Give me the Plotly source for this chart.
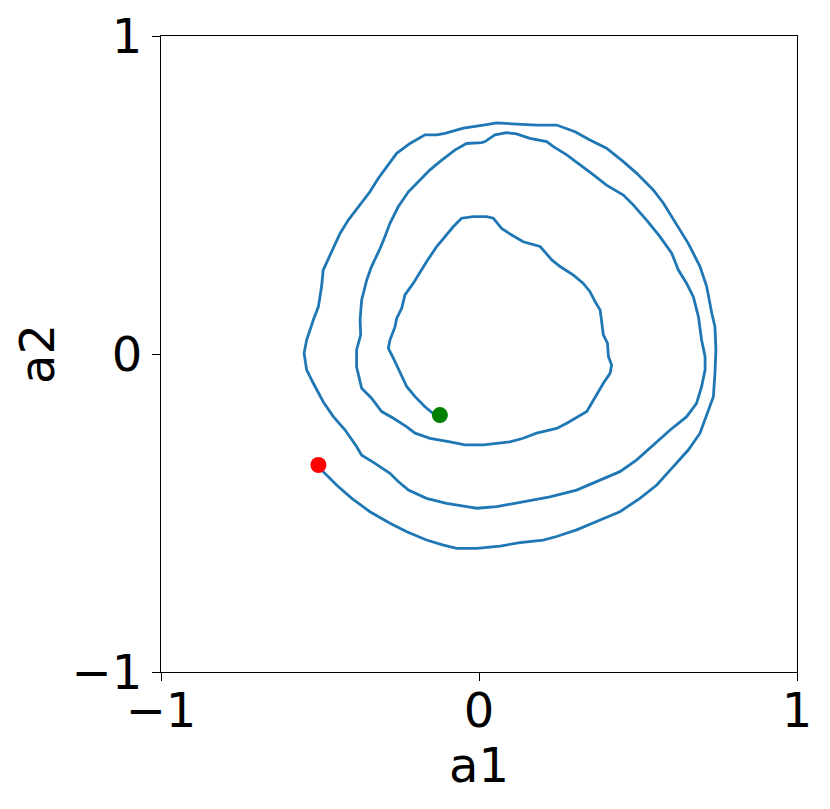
import plotly.graph_objects as go

# trajectory in (a1, a2) space, from start (red) to end (green)
a1 = [-0.505, -0.490, -0.448, -0.400, -0.343, -0.280, -0.227, -0.165, -0.112, -0.070,
      -0.007, 0.066, 0.129, 0.202, 0.244, 0.307, 0.381, 0.443, 0.506, 0.559,
      0.611, 0.658, 0.695, 0.721, 0.737, 0.742, 0.745, 0.742, 0.732, 0.716,
      0.695, 0.658, 0.622, 0.580, 0.548, 0.496, 0.454, 0.401, 0.349, 0.302,
      0.244, 0.181, 0.118, 0.056, 0.014, -0.049, -0.107, -0.133, -0.170, -0.217,
      -0.259, -0.285, -0.317, -0.343, -0.379, -0.411, -0.437, -0.463, -0.490, -0.495,
      -0.505, -0.521, -0.542, -0.550, -0.542, -0.521, -0.490, -0.458, -0.421, -0.385,
      -0.369, -0.327, -0.280, -0.254, -0.222, -0.165, -0.102, -0.039, -0.007, 0.056,
      0.139, 0.223, 0.307, 0.381, 0.443, 0.496, 0.548, 0.601, 0.653, 0.684,
      0.700, 0.711, 0.711, 0.700, 0.690, 0.674, 0.653, 0.627, 0.606, 0.569,
      0.527, 0.485, 0.454, 0.401, 0.360, 0.318, 0.276, 0.234, 0.213, 0.160,
      0.118, 0.087, 0.050, 0.019, 0.008, -0.039, -0.075, -0.123, -0.154, -0.191,
      -0.222, -0.254, -0.280, -0.296, -0.311, -0.338, -0.353, -0.369, -0.374, -0.372,
      -0.385, -0.385, -0.369, -0.338, -0.306, -0.269, -0.227, -0.201, -0.154, -0.091,
      -0.044, 0.014, 0.097, 0.139, 0.181, 0.244, 0.276, 0.339, 0.360, 0.391,
      0.412, 0.417, 0.407, 0.404, 0.391, 0.386, 0.381, 0.365, 0.349, 0.328,
      0.297, 0.255, 0.229, 0.192, 0.139, 0.103, 0.071, 0.045, 0.024, -0.018,
      -0.055, -0.081, -0.107, -0.133, -0.165, -0.186, -0.207, -0.233, -0.243, -0.259,
      -0.264, -0.280, -0.285, -0.269, -0.254, -0.243, -0.227, -0.201, -0.170, -0.144,
      -0.123]
a2 = [-0.349, -0.370, -0.412, -0.454, -0.496, -0.532, -0.559, -0.585, -0.601, -0.611,
      -0.611, -0.604, -0.593, -0.585, -0.574, -0.553, -0.522, -0.496, -0.454, -0.412,
      -0.354, -0.302, -0.249, -0.176, -0.134, -0.061, 0.013, 0.086, 0.128, 0.212,
      0.275, 0.348, 0.406, 0.474, 0.516, 0.568, 0.605, 0.647, 0.673, 0.699,
      0.720, 0.720, 0.723, 0.727, 0.720, 0.710, 0.694, 0.689, 0.689, 0.662,
      0.631, 0.594, 0.552, 0.510, 0.463, 0.421, 0.379, 0.322, 0.264, 0.212,
      0.149, 0.107, 0.044, 0.002, -0.050, -0.092, -0.150, -0.197, -0.239, -0.291,
      -0.318, -0.344, -0.375, -0.401, -0.428, -0.454, -0.470, -0.480, -0.485, -0.480,
      -0.464, -0.449, -0.428, -0.396, -0.370, -0.333, -0.286, -0.239, -0.197, -0.155,
      -0.103, -0.050, -0.008, 0.044, 0.117, 0.180, 0.222, 0.264, 0.317, 0.369,
      0.421, 0.469, 0.500, 0.531, 0.563, 0.594, 0.626, 0.652, 0.668, 0.678,
      0.692, 0.696, 0.689, 0.668, 0.665, 0.662, 0.642, 0.605, 0.579, 0.542,
      0.510, 0.463, 0.411, 0.369, 0.332, 0.275, 0.233, 0.170, 0.107, 0.060,
      0.013, -0.040, -0.108, -0.139, -0.181, -0.202, -0.229, -0.249, -0.265, -0.276,
      -0.286, -0.286, -0.276, -0.265, -0.249, -0.234, -0.218, -0.181, -0.145, -0.092,
      -0.061, -0.035, -0.008, 0.034, 0.060, 0.096, 0.138, 0.165, 0.196, 0.222,
      0.248, 0.275, 0.296, 0.338, 0.353, 0.374, 0.395, 0.427, 0.432, 0.432,
      0.427, 0.400, 0.369, 0.338, 0.290, 0.254, 0.222, 0.186, 0.144, 0.112,
      0.086, 0.044, 0.018, -0.014, -0.045, -0.071, -0.103, -0.134, -0.166, -0.187,
      -0.192]

tick_vals = [-1, 0, 1]
x_label = "a1"
y_label = "a2"

FONT = "DejaVu Sans"
FS = 48

fig = go.Figure()
fig.add_trace(go.Scatter(x=a1, y=a2, mode="lines",
                         line=dict(color="#1f77b4", width=2.8), showlegend=False,
                         hoverinfo="skip"))
fig.add_trace(go.Scatter(x=[a1[0]], y=[a2[0]], mode="markers",
                         marker=dict(color="red", size=16, line=dict(width=0)),
                         showlegend=False))
fig.add_trace(go.Scatter(x=[a1[-1]], y=[a2[-1]], mode="markers",
                         marker=dict(color="green", size=16, line=dict(width=0)),
                         showlegend=False))

axis_common = dict(range=[-1, 1], tickvals=tick_vals, showgrid=False, zeroline=False,
                   showline=True, linecolor="black", linewidth=1.4, mirror=True,
                   ticks="outside", ticklen=8, tickwidth=1.4, tickcolor="black",
                   ticklabeloverflow="allow", automargin=False,
                   tickfont=dict(family=FONT, size=FS, color="black"))

fig.update_layout(
    width=822, height=801,
    margin=dict(l=153, r=33, t=28, b=137),
    paper_bgcolor="white", plot_bgcolor="white",
    xaxis=dict(**axis_common, ticklabelstandoff=-12),
    yaxis=dict(**axis_common),
    annotations=[
        dict(text=x_label, xref="paper", yref="paper", x=0.5, y=-0.146,
             xanchor="center", yanchor="middle", showarrow=False,
             font=dict(family=FONT, size=FS, color="black")),
        dict(text=y_label, xref="paper", yref="paper", x=-0.195, y=0.5,
             xanchor="center", yanchor="middle", showarrow=False, textangle=-90,
             font=dict(family=FONT, size=FS, color="black")),
    ],
)

fig.write_html("out.html")
